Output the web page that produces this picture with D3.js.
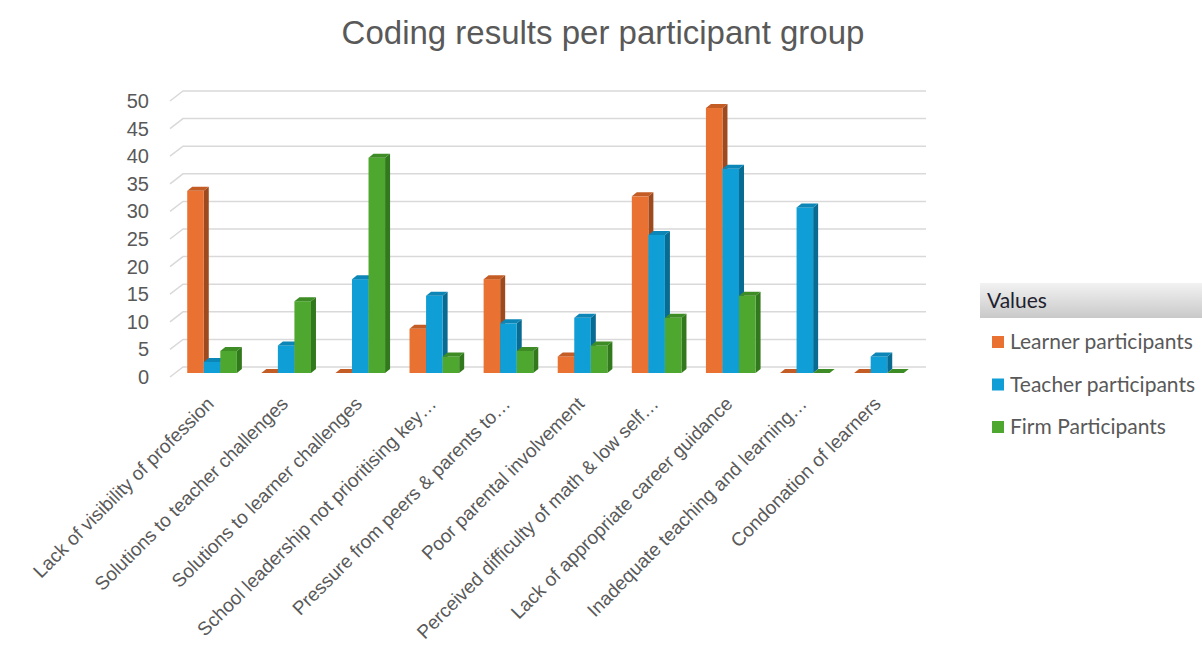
<!DOCTYPE html>
<html>
<head>
<meta charset="utf-8">
<script src="https://cdn.jsdelivr.net/npm/d3@7"></script>
<style>
  html, body { margin: 0; padding: 0; background: #fff; }
  svg { display: block; }
</style>
</head>
<body>
<div id="chart"></div>
<script>
const categories = [
  "Lack of visibility of profession",
  "Solutions to teacher challenges",
  "Solutions to learner challenges",
  "School leadership not prioritising key…",
  "Pressure from peers & parents to…",
  "Poor parental involvement",
  "Perceived difficulty of math & low self…",
  "Lack of appropriate career guidance",
  "Inadequate teaching and learning…",
  "Condonation of learners"
];
const seriesNames = ["Learner participants", "Teacher participants", "Firm Participants"];
const learnerValues = [33, 0, 0, 8, 17, 3, 32, 48, 0, 0];
const teacherValues = [2, 5, 17, 14, 9, 10, 25, 37, 30, 3];
const firmValues = [4, 13, 39, 3, 4, 5, 10, 14, 0, 0];
const yTicks = [0, 5, 10, 15, 20, 25, 30, 35, 40, 45, 50];
const chartTitle = "Coding results per participant group";
const legendTitle = "Values";

const seriesValues = [learnerValues, teacherValues, firmValues];
const colors = {
  front: ["#E97132", "#0F9ED5", "#4EA72E"],
  side:  ["#9E4A1E", "#0A6B92", "#32781C"],
  top:   ["#C45C26", "#0C86B6", "#3E8C25"]
};

const W = 1202, H = 649;
const svg = d3.select("#chart").append("svg").attr("width", W).attr("height", H);

const y = d3.scaleLinear().domain([0, 50]).range([373, 97]);
const x = d3.scaleBand().domain(categories).range([175, 916]).paddingInner(0.33).paddingOuter(0.165);
const xs = d3.scaleBand().domain(seriesNames).range([0, x.bandwidth()]);

const dx = 5, dy = 4;

// Title
svg.append("text")
  .attr("x", 603).attr("y", 44)
  .attr("text-anchor", "middle")
  .attr("font-family", "Liberation Sans, Arial, sans-serif")
  .attr("font-size", 33)
  .attr("fill", "#595959")
  .text(chartTitle);

// Gridlines
const grid = svg.append("g");
yTicks.forEach(v => {
  const yy = y(v);
  grid.append("path")
    .attr("d", `M170,${yy + 4}L183,${yy - 6}L926,${yy - 6}`)
    .attr("fill", "none")
    .attr("stroke", "#D9D9D9")
    .attr("stroke-width", 1.5);
});

// Y labels
svg.append("g").selectAll("text").data(yTicks).join("text")
  .attr("x", 149)
  .attr("y", d => y(d) + 4)
  .attr("dy", "0.35em")
  .attr("text-anchor", "end")
  .attr("font-family", "Liberation Sans, Arial, sans-serif")
  .attr("font-size", 20)
  .attr("fill", "#595959")
  .text(d => d);

// Bars
const barsG = svg.append("g");
categories.forEach((cat, ci) => {
  seriesNames.forEach((s, si) => {
    const v = seriesValues[si][ci];
    const x0 = x(cat) + xs(s);
    const w = xs.bandwidth();
    const yt = y(v), yb = y(0);
    const g = barsG.append("g");
    if (v > 0) {
      g.append("path")
        .attr("d", `M${x0 + w},${yt}L${x0 + w + dx},${yt - dy}L${x0 + w + dx},${yb - dy}L${x0 + w},${yb}Z`)
        .attr("fill", colors.side[si]);
      g.append("rect")
        .attr("x", x0).attr("y", yt)
        .attr("width", w).attr("height", yb - yt)
        .attr("fill", colors.front[si]);
    }
    g.append("path")
      .attr("d", `M${x0},${yt}L${x0 + dx},${yt - dy}L${x0 + w + dx},${yt - dy}L${x0 + w},${yt}Z`)
      .attr("fill", colors.top[si]);
  });
});

// Category labels
svg.append("g").selectAll("text").data(categories).join("text")
  .attr("transform", d => `translate(${x(d) + x.bandwidth() / 2 + 3},${405}) rotate(-45)`)
  .attr("text-anchor", "end")
  .attr("font-family", "Liberation Sans, Arial, sans-serif")
  .attr("font-size", 19)
  .attr("fill", "#595959")
  .text(d => d);

// Legend
const defs = svg.append("defs");
const grad = defs.append("linearGradient").attr("id", "legHead").attr("x1", 0).attr("y1", 0).attr("x2", 0).attr("y2", 1);
grad.append("stop").attr("offset", "0%").attr("stop-color", "#F2F2F2");
grad.append("stop").attr("offset", "100%").attr("stop-color", "#C9C9C9");

const leg = svg.append("g");
leg.append("rect").attr("x", 980).attr("y", 283).attr("width", 222).attr("height", 35).attr("fill", "url(#legHead)");
leg.append("text")
  .attr("x", 987).attr("y", 301).attr("dy", "0.35em")
  .attr("font-family", "Lato, Carlito, sans-serif")
  .attr("font-size", 21)
  .attr("fill", "#1F1F2F")
  .text(legendTitle);

const legY = d3.scalePoint().domain(seriesNames).range([342, 427]);
seriesNames.forEach((s, si) => {
  leg.append("rect")
    .attr("x", 992).attr("y", legY(s) - 6)
    .attr("width", 12).attr("height", 12)
    .attr("fill", colors.front[si]);
  leg.append("text")
    .attr("x", 1010).attr("y", legY(s)).attr("dy", "0.35em")
    .attr("font-family", "Lato, Carlito, sans-serif")
    .attr("font-size", 21)
    .attr("fill", "#595959")
    .text(s);
});
</script>
</body>
</html>
